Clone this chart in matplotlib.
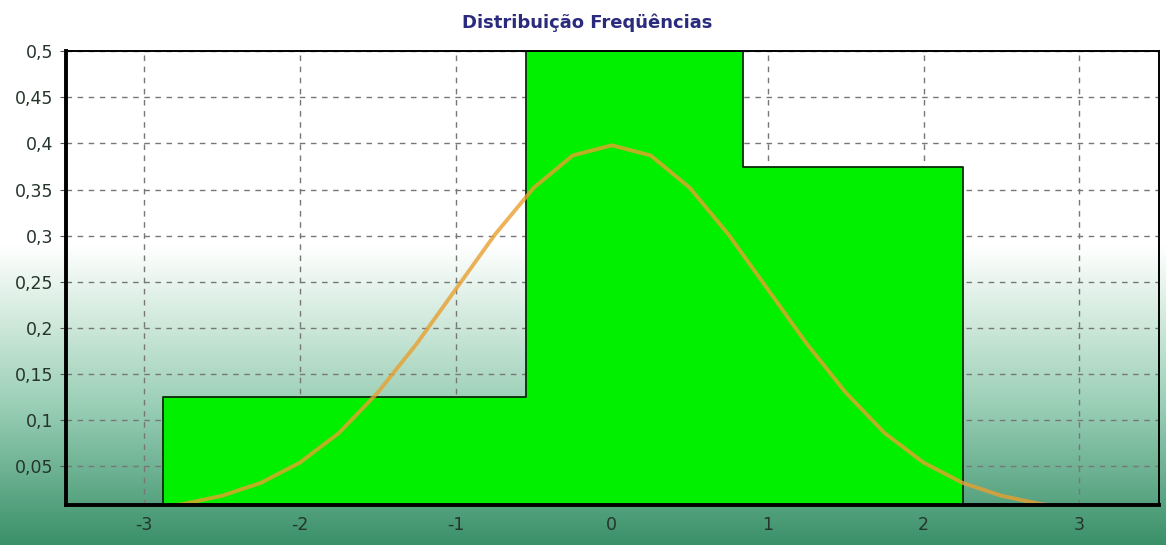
import numpy as np
import matplotlib.pyplot as plt
from matplotlib.colors import LinearSegmentedColormap

plt.rcParams['font.family'] = ['DejaVu Sans']

# histogram bins (left edges, widths, heights)
bin_left = [-2.88, -0.55, 0.84]
bin_width = [2.33, 1.39, 1.41]
bin_height = [0.125, 0.5, 0.375]

# fitted curve, points
curve_x = [-2.9, -2.75, -2.5, -2.25, -2.0, -1.75, -1.5, -1.25, -1.0, -0.75, -0.5, -0.25,
           0.0, 0.25, 0.5, 0.75, 1.0, 1.25, 1.5, 1.75, 2.0, 2.25, 2.5, 2.75, 2.95]
curve_y = [0.006, 0.009, 0.018, 0.032, 0.054, 0.086, 0.130, 0.183, 0.242, 0.301, 0.352, 0.387,
           0.398, 0.387, 0.352, 0.301, 0.242, 0.183, 0.130, 0.086, 0.054, 0.032, 0.018, 0.009, 0.005]

xticks = [-3, -2, -1, 0, 1, 2, 3]
yticks = [0.05, 0.1, 0.15, 0.2, 0.25, 0.3, 0.35, 0.4, 0.45, 0.5]
ylabels = ['0,05', '0,1', '0,15', '0,2', '0,25', '0,3', '0,35', '0,4', '0,45', '0,5']

fig = plt.figure(figsize=(11.66, 5.45), dpi=100)

# background gradient white -> green
bg = fig.add_axes([0, 0, 1, 1], zorder=-1)
cmap = LinearSegmentedColormap.from_list('bg', [(0.0, '#ffffff'), (0.45, '#ffffff'),
                                               (0.58, '#d4ebdf'), (0.75, '#98ceb4'),
                                               (1.0, '#3a9069')])
bg.imshow(np.linspace(0, 1, 256).reshape(-1, 1), aspect='auto', cmap=cmap,
          extent=[0, 1, 0, 1], origin='upper')
bg.axis('off')

ax = fig.add_axes([0.0566, 0.0734, 0.9374, 0.8326])
ax.set_facecolor('none')
ax.set_axisbelow(True)
ax.grid(True, ls=(0, (4, 4)), c='#777777', lw=1)

ax.bar(bin_left, bin_height, width=bin_width, align='edge', color='#00f000',
       edgecolor='none', linewidth=0, zorder=2)
# outline of the histogram as one step line (no inner edges at the bottom)
edges = list(bin_left) + [bin_left[-1] + bin_width[-1]]
ox = np.repeat(edges, 2)
oy = np.concatenate([[0], np.repeat(bin_height, 2), [0]])
ax.plot(ox, oy, c='#0a2a0a', lw=1.3, zorder=2.5)
ax.plot(curve_x, curve_y, c='#e8a030', lw=2.8, alpha=0.8, zorder=3)

ax.set_xlim(-3.5, 3.51)
ax.set_ylim(0.008, 0.5)
ax.set_xticks(xticks)
ax.set_xticklabels([str(t) for t in xticks])
ax.set_yticks(yticks)
ax.set_yticklabels(ylabels)
ax.tick_params(axis='both', labelsize=12.5, colors='#26352c', length=4)
ax.tick_params(axis='x', length=0, pad=8)
ax.tick_params(axis='y', color='#555555', pad=5)

for s in ['left', 'bottom']:
    ax.spines[s].set_linewidth(2.8)
for s in ['top', 'right']:
    ax.spines[s].set_linewidth(1.4)
for s in ax.spines.values():
    s.set_color('black')
    s.set_zorder(4)

fig.text(0.5034, 0.958, 'Distribuição Freqüências', ha='center', va='center',
         fontsize=13, fontweight='bold', color='#2b2b7e')

plt.savefig('out.png', dpi=100)
